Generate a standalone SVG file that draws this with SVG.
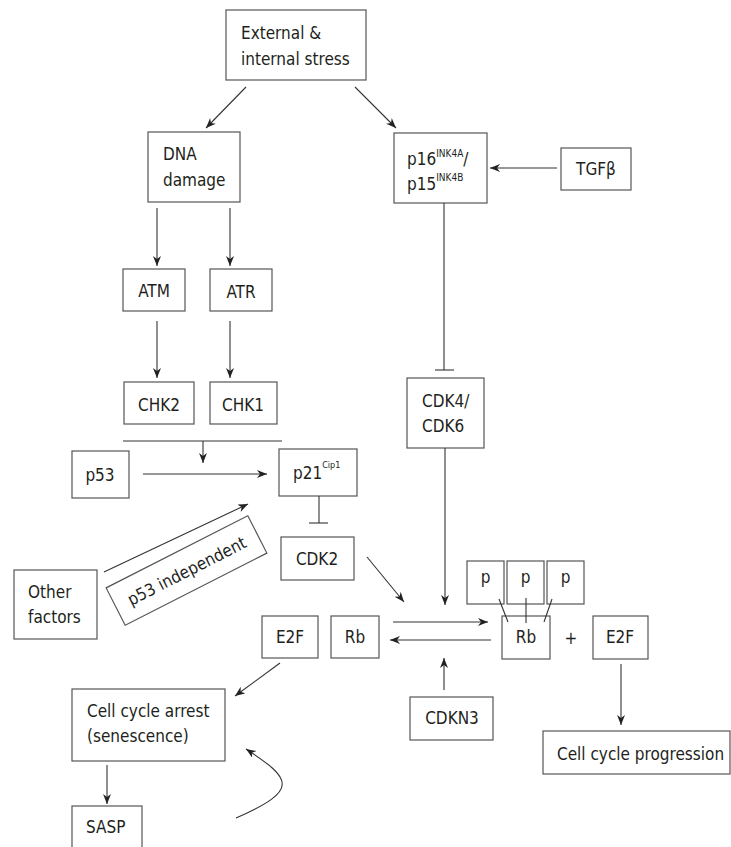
<svg xmlns="http://www.w3.org/2000/svg" width="731" height="847" viewBox="0 0 731 847">
<defs>
<style>
rect.b{fill:#fff;stroke:#555;stroke-width:1.2}
text{font-family:"DejaVu Sans Condensed","DejaVu Sans",sans-serif;font-stretch:condensed;font-size:17px;fill:#231f20}
.c{text-anchor:middle}
.sup{font-size:10px}
.ln{stroke:#333;stroke-width:1.1;fill:none}
.ar{stroke:#333;stroke-width:1.1;fill:none;marker-end:url(#ah)}
</style>
<marker id="ah" markerUnits="userSpaceOnUse" markerWidth="11" markerHeight="9" refX="10" refY="4" orient="auto">
<path d="M0,0 L10,4 L0,8 L3,4 z" fill="#222"/>
</marker>
</defs>
<rect width="731" height="847" fill="#fff"/>

<g id="stress"><rect class="b" x="226" y="10" width="140" height="70"/>
<text x="241" y="39">External &amp;</text><text x="241" y="65">internal stress</text></g>

<g id="dna"><rect class="b" x="148" y="132" width="92" height="70"/>
<text x="163" y="160">DNA</text><text x="163" y="186">damage</text></g>

<g id="p16"><rect class="b" x="394" y="133" width="93" height="70"/>
<text x="407" y="165">p16<tspan class="sup" dy="-8">INK4A</tspan><tspan dy="8">/</tspan></text>
<text x="407" y="190">p15<tspan class="sup" dy="-9">INK4B</tspan></text></g>

<g id="tgfb"><rect class="b" x="561" y="148" width="70" height="42"/>
<text class="c" x="596" y="175">TGFβ</text></g>

<g id="atm"><rect class="b" x="123" y="269" width="62" height="42"/>
<text class="c" x="154" y="297">ATM</text></g>

<g id="atr"><rect class="b" x="210" y="269" width="62" height="42"/>
<text class="c" x="241" y="298">ATR</text></g>

<g id="chk2"><rect class="b" x="124" y="382" width="70" height="42"/>
<text class="c" x="159" y="411">CHK2</text></g>

<g id="chk1"><rect class="b" x="210" y="382" width="67" height="42"/>
<text class="c" x="243" y="411">CHK1</text></g>

<g id="cdk46"><rect class="b" x="407" y="378" width="77" height="70"/>
<text x="422" y="407">CDK4/</text><text x="422" y="432">CDK6</text></g>

<g id="p53"><rect class="b" x="72" y="451" width="57" height="47"/>
<text class="c" x="100" y="481">p53</text></g>

<g id="p21"><rect class="b" x="279" y="449" width="78" height="47"/>
<text x="293" y="479">p21<tspan font-size="9" dy="-11">Cip1</tspan></text></g>

<g id="cdk2"><rect class="b" x="281" y="537" width="73" height="43"/>
<text class="c" x="317" y="565">CDK2</text></g>

<g id="other"><rect class="b" x="14" y="570" width="83" height="69"/>
<text x="28" y="598">Other</text><text x="28" y="623">factors</text></g>

<g id="p53indep" transform="translate(186.5,570.5) rotate(-27)">
<rect class="b" x="-79.5" y="-21" width="159" height="42"/>
<text class="c" x="0" y="6.5" font-size="18">p53 independent</text></g>

<g id="e2f-left"><rect class="b" x="262" y="616" width="56" height="42"/>
<text class="c" x="290" y="643">E2F</text></g>

<g id="rb-left"><rect class="b" x="331" y="616" width="48" height="42"/>
<text class="c" x="355" y="643">Rb</text></g>

<g id="p1"><rect class="b" x="467" y="561" width="37" height="43"/>
<text class="c" x="485.5" y="583">p</text></g>
<g id="p2"><rect class="b" x="507" y="561" width="37" height="43"/>
<text class="c" x="525.5" y="583">p</text></g>
<g id="p3"><rect class="b" x="547" y="561" width="37" height="43"/>
<text class="c" x="565.5" y="583">p</text></g>

<g id="rb-right"><rect class="b" x="502" y="616" width="48" height="43"/>
<text class="c" x="526" y="643">Rb</text></g>

<g id="plus"><text class="c" x="571" y="644">+</text></g>

<g id="e2f-right"><rect class="b" x="593" y="616" width="55" height="43"/>
<text class="c" x="620" y="643">E2F</text></g>

<g id="cdkn3"><rect class="b" x="410" y="697" width="83" height="43"/>
<text class="c" x="452" y="724">CDKN3</text></g>

<g id="arrest"><rect class="b" x="72" y="689" width="153" height="72"/>
<text x="87" y="717">Cell cycle arrest</text><text x="87" y="742">(senescence)</text></g>

<g id="sasp"><rect class="b" x="72" y="806" width="70" height="60"/>
<text x="86" y="833">SASP</text></g>

<g id="progression"><rect class="b" x="543" y="731" width="187" height="43"/>
<text x="557" y="760">Cell cycle progression</text></g>

<g id="connectors">
<line class="ar" x1="246" y1="87" x2="206" y2="128"/>
<line class="ar" x1="355" y1="87" x2="396" y2="128"/>
<line class="ar" x1="557" y1="168" x2="490" y2="168"/>
<line class="ln" x1="444" y1="203" x2="444" y2="370"/>
<line class="ln" x1="435" y1="370" x2="454" y2="370"/>
<line class="ar" x1="157" y1="208" x2="157" y2="266"/>
<line class="ar" x1="230" y1="208" x2="230" y2="266"/>
<line class="ar" x1="157" y1="321" x2="157" y2="378"/>
<line class="ar" x1="230" y1="321" x2="230" y2="378"/>
<line class="ln" x1="123" y1="441" x2="282" y2="441"/>
<line class="ar" x1="203" y1="441" x2="203" y2="463"/>
<line class="ar" x1="143" y1="474" x2="267" y2="474"/>
<line class="ln" x1="319" y1="496" x2="319" y2="523"/>
<line class="ln" x1="309" y1="523" x2="328" y2="523"/>
<line class="ar" x1="104" y1="572" x2="248" y2="504"/>
<line class="ar" x1="367" y1="557" x2="404" y2="602"/>
<line class="ar" x1="445" y1="448" x2="445" y2="605"/>
<line class="ar" x1="393" y1="622" x2="488" y2="622"/>
<line class="ar" x1="491" y1="640" x2="390" y2="640"/>
<line class="ar" x1="444" y1="690" x2="444" y2="658"/>
<line class="ln" x1="499" y1="599" x2="508" y2="622"/>
<line class="ln" x1="526" y1="598" x2="526" y2="623"/>
<line class="ln" x1="552" y1="599" x2="544" y2="622"/>
<line class="ar" x1="621" y1="664" x2="621" y2="725"/>
<line class="ar" x1="280" y1="663" x2="235" y2="696"/>
<line class="ar" x1="107" y1="765" x2="107" y2="804"/>
<path class="ar" d="M236,818 C300,790 292,779 246,749"/>
</g>
</svg>
